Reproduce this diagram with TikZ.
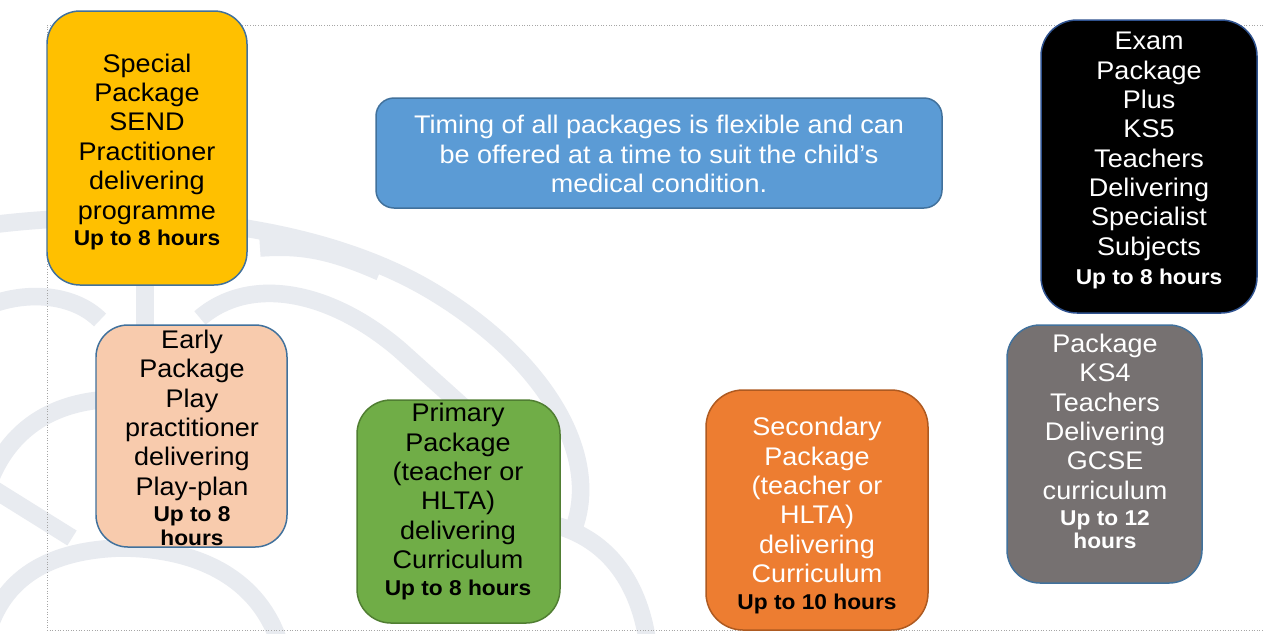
\documentclass[tikz,border=0pt]{standalone}
\usepackage{fontspec}
\setmainfont{Liberation Sans}[FakeStretch=1.06]
\definecolor{wm}{HTML}{E8EBF0}
\definecolor{cyel}{HTML}{FFC000}
\definecolor{cpeach}{HTML}{F8CBAD}
\definecolor{cgreen}{HTML}{70AD47}
\definecolor{corange}{HTML}{ED7D31}
\definecolor{cgray}{HTML}{767171}
\definecolor{cblue}{HTML}{5B9BD5}
\definecolor{bblue}{HTML}{41719C}
\definecolor{bgreen}{HTML}{507E32}
\definecolor{borange}{HTML}{AE5A21}
\definecolor{bnavy}{HTML}{2F528F}
\newcommand{\hb}{\fontsize{12.2pt}{14.2pt}\selectfont\bfseries}
\tikzset{
  pkg/.style={draw, line width=0.85pt, inner sep=0pt},
  txt/.style={align=center, inner sep=0pt, font=\fontsize{14.5pt}{16.7pt}\selectfont},
  wmline/.style={draw=wm, line width=10pt}
}
\begin{document}
\begin{tikzpicture}[x=0.02cm,y=-0.02cm]
\useasboundingbox (0,0) rectangle (1263,633);
\fill[white] (0,0) rectangle (1263,633);
% watermark
\begin{scope}
\clip (0,0) rectangle (1263,633);
\draw[wmline] (-10,225) .. controls (150,205) and (320,225) .. (430,290) .. controls (540,355) and (600,450) .. (575,525);
\draw[wmline] (-10,305) .. controls (30,290) and (75,295) .. (100,320);
\draw[wmline] (145,280) -- (145,335);
\draw[wmline] (200,318) .. controls (250,275) and (330,290) .. (400,350) .. controls (450,395) and (500,440) .. (545,480);
\draw[wmline] (555,525) .. controls (610,540) and (640,585) .. (648,645);
\draw[wmline] (-10,480) .. controls (10,430) and (50,405) .. (100,400);
\draw[wmline] (-5,490) -- (72,538);
\draw[wmline] (-10,625) .. controls (10,570) and (60,550) .. (120,548) .. controls (200,548) and (260,580) .. (280,645);
\draw[wmline] (380,272) .. controls (330,250) and (300,245) .. (260,248);
\end{scope}
% dotted frame
\draw[gray!70, densely dotted, line width=0.5pt] (1263,25) -- (47,25) -- (47,630) -- (1263,630);
% boxes
\node[pkg, fill=cyel, draw=bblue, rounded corners=33*0.02cm, minimum width=200*0.02cm, minimum height=274*0.02cm] (spec) at (147,148) {};
\node[txt] (spect) at (147,152) {Special\\Package\\SEND\\Practitioner\\delivering\\programme\\[-1.5pt]{\hb Up to 8 hours}};

\node[pkg, fill=cpeach, draw=bblue, rounded corners=32*0.02cm, minimum width=191*0.02cm, minimum height=222*0.02cm] (early) at (191.5,436) {};
\node[txt] (earlyt) at (192,438) {Early\\Package\\Play\\practitioner\\delivering\\Play-plan\\[-1.5pt]{\hb Up to 8}\\[-3pt]{\hb hours}};

\node[pkg, fill=cgreen, draw=bgreen, rounded corners=34*0.02cm, minimum width=203*0.02cm, minimum height=223*0.02cm] (prim) at (458.5,511.5) {};
\node[txt] (primt) at (458,501.5) {Primary\\Package\\(teacher or\\HLTA)\\delivering\\Curriculum\\[-1.5pt]{\hb Up to 8 hours}};

\node[pkg, fill=corange, draw=borange, rounded corners=37*0.02cm, minimum width=222*0.02cm, minimum height=240*0.02cm] (sec) at (817,510) {};
\node[txt, text=white] (sect) at (817,515.5) {Secondary\\Package\\(teacher or\\HLTA)\\delivering\\Curriculum\\[-1.5pt]{\hb\color{black} Up to 10 hours}};

\node[pkg, fill=cgray, draw=bblue, rounded corners=33*0.02cm, minimum width=195*0.02cm, minimum height=258*0.02cm] (ks4) at (1104.5,454) {};
\node[txt, text=white] (ks4t) at (1105,441.5) {Package\\KS4\\Teachers\\Delivering\\GCSE\\curriculum\\[-1.5pt]{\hb Up to 12}\\[-3.5pt]{\hb hours}};

\node[pkg, fill=black, draw=bnavy, rounded corners=36*0.02cm, minimum width=216*0.02cm, minimum height=293*0.02cm] (exam) at (1149,166.5) {};
\node[txt, text=white] (examt) at (1149,160.5) {Exam\\Package\\Plus\\KS5\\Teachers\\Delivering\\Specialist\\Subjects\\{\hb Up to 8 hours}};

\node[pkg, fill=cblue, draw=bblue, rounded corners=18*0.02cm, minimum width=566*0.02cm, minimum height=110*0.02cm] (timing) at (659,153) {};
\node[txt, text=white] (timingt) at (659,154) {Timing of all packages is flexible and can\\be offered at a time to suit the child’s\\medical condition.};
\end{tikzpicture}
\end{document}
